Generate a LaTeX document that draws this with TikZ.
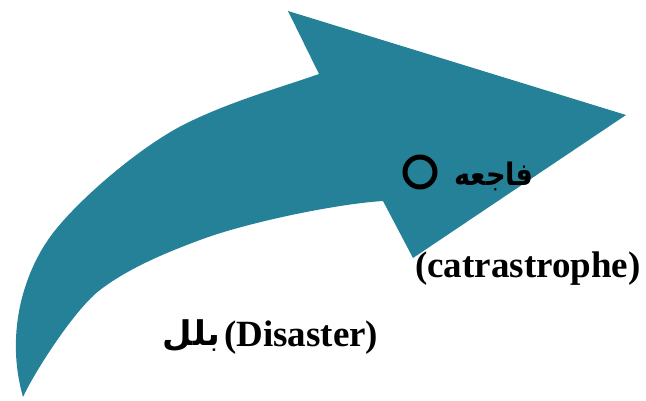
\documentclass[tikz,border=0pt]{standalone}
\usepackage{fontspec}
\setmainfont{Liberation Serif}
\newfontfamily\arabicfont[Script=Arabic]{DejaVu Sans}
\TeXXeTstate=1
\definecolor{arrowteal}{RGB}{36,129,152}
\begin{document}
\begin{tikzpicture}[x=1pt,y=-1pt,
  latin/.style={inner sep=0pt, font=\fontsize{37}{37}\selectfont\bfseries},
  arab/.style={inner sep=0pt, font=\arabicfont\bfseries},
  bullet/.style={circle, draw=black, line width=5pt, minimum size=30pt, inner sep=0pt}]
\useasboundingbox (0,0) rectangle (646,401);
\fill[arrowteal] (23,397) .. controls (4,330) and (26,268) .. (53,233)
  .. controls (80,198) and (142,145) .. (187,123)
  .. controls (232,101) and (279,88) .. (319,74)
  -- (288,11) -- (626,115) -- (413,258) -- (383,201)
  .. controls (335,204) and (245,223) .. (200,240)
  .. controls (165,253) and (128,268.5) .. (100,290)
  .. controls (75,309) and (35,371) .. (23,397) -- cycle;
\node[bullet] (b1) at (420,172) {};
\node[arab, font=\arabicfont\fontsize{31}{31}\selectfont\bfseries, anchor=base east] (fa) at (534,186) {\scalebox{0.88}[1]{\beginR فاجعه\endR}};
\node[latin, anchor=base west] (cat) at (415,277) {(catrastrophe)};
\node[arab, font=\arabicfont\fontsize{34}{34}\selectfont\bfseries, anchor=base east] (ba) at (220,345) {\beginR بلل\endR};
\node[latin, anchor=base west] (dis) at (224,346) {(Disaster)};
\end{tikzpicture}
\end{document}
